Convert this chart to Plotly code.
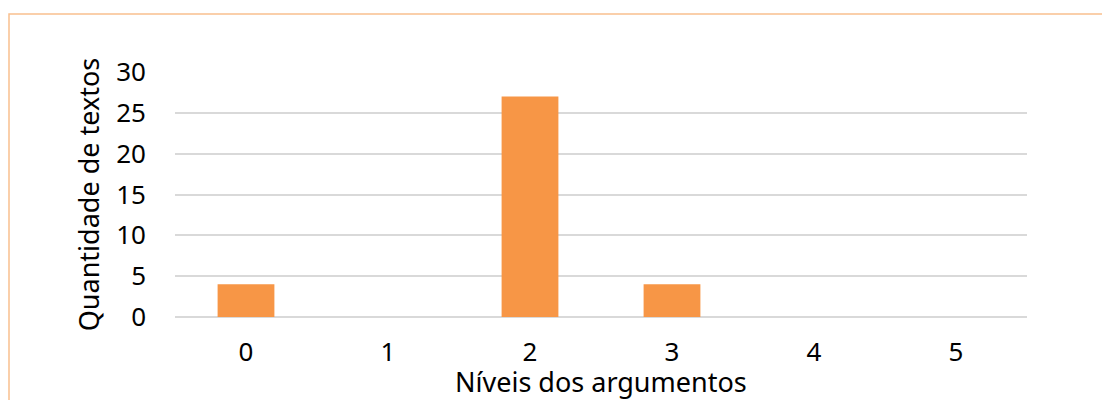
import plotly.graph_objects as go

categories = ["0", "1", "2", "3", "4", "5"]
values = [4, 0, 27, 4, 0, 0]
y_ticks = [0, 5, 10, 15, 20, 25, 30]
x_title = "Níveis dos argumentos"
y_title = "Quantidade de textos"

fig = go.Figure()
fig.add_trace(go.Bar(
    x=categories, y=values, width=0.4,
    marker=dict(color="#F79646", line=dict(width=0)),
))

L, R, T, B = 175, 75, 72, 83
W, H = 1102, 400
pw, ph = W - L - R, H - T - B

def px(xp):
    return (xp - L) / pw

def py(yp):
    return (H - B - yp) / ph

fig.add_shape(type="rect", xref="paper", yref="paper",
              x0=px(9), x1=px(1115), y0=py(410), y1=py(14),
              line=dict(color="#F9C08F", width=1.5), layer="below")

fig.add_annotation(text=x_title, xref="paper", yref="paper",
                   x=0.5, y=py(401), xanchor="center", yanchor="bottom",
                   showarrow=False, font=dict(size=27), borderpad=0)

font = "Noto Sans, Open Sans, sans-serif"
fs = 26
fig.update_layout(
    width=W, height=H,
    margin=dict(l=L, r=R, t=T, b=B),
    paper_bgcolor="white", plot_bgcolor="white",
    showlegend=False,
    font=dict(family=font, size=fs, color="#000000"),
    xaxis=dict(
        type="category", tickfont=dict(size=fs), ticks="", showgrid=False,
        showline=False, zeroline=False, ticklabelstandoff=17, automargin=False,
    ),
    yaxis=dict(
        range=[0, 30], tickvals=y_ticks, tickfont=dict(size=fs),
        showgrid=True, gridcolor="#D9D9D9", gridwidth=1.5,
        zeroline=True, zerolinecolor="#D9D9D9", zerolinewidth=1.5,
        showline=False, ticks="", ticklen=0, ticklabelstandoff=28, automargin=False,
        title=dict(text=y_title, font=dict(size=27), standoff=8),
    ),
)

fig.write_html("out.html")
